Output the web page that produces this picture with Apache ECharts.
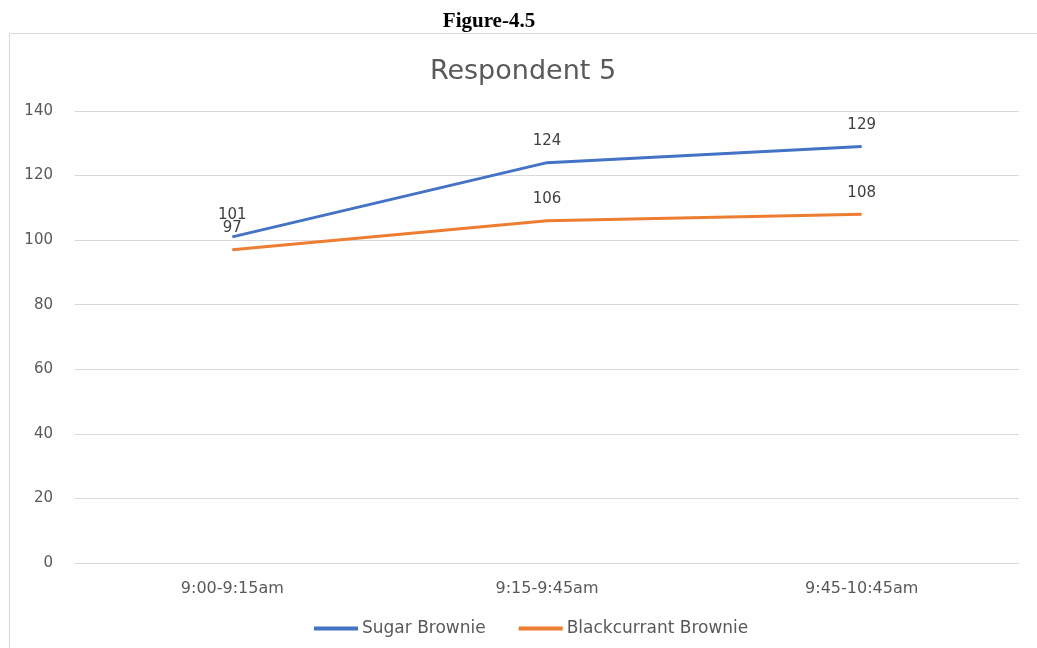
<!DOCTYPE html>
<html>
<head>
<meta charset="utf-8">
<script src="https://cdn.jsdelivr.net/npm/echarts@6/dist/echarts.min.js"></script>
<style>
  html, body { margin: 0; padding: 0; background: #fff; }
  #chart { width: 1037px; height: 648px; }
</style>
</head>
<body>
<div id="chart"></div>
<script>
// Time slots on the x axis
const timeSlots = ['9:00-9:15am', '9:15-9:45am', '9:45-10:45am'];
// Readings per time slot
const sugarBrownie = [101, 124, 129];
const blackcurrantBrownie = [97, 106, 108];
// Value axis ticks
const yTicks = [0, 20, 40, 60, 80, 100, 120, 140];

const chart = echarts.init(document.getElementById('chart'));
const textColor = '#595959';
const font = 'DejaVu Sans, sans-serif';

function lineSeries(name, data, color) {
  return {
    name: name,
    type: 'line',
    data: data,
    symbol: 'circle',
    symbolSize: 0,
    showSymbol: true,
    lineStyle: { color: color, width: 3 },
    itemStyle: { color: color },
    label: { show: true, position: 'top', distance: 14, fontFamily: font, fontSize: 15, color: '#404040' }
  };
}

chart.setOption({
  animation: false,
  backgroundColor: '#fff',
  graphic: [
    {
      type: 'rect',
      shape: { x: 9.5, y: 33.5, width: 1040, height: 640 },
      style: { fill: 'none', stroke: '#d9d9d9', lineWidth: 1 },
      silent: true
    }
  ],
  title: [
    {
      text: 'Figure-4.5',
      left: 484, top: 6, textAlign: 'center',
      textStyle: { fontFamily: 'Liberation Serif, serif', fontWeight: 'bold', fontSize: 21, color: '#000' }
    },
    {
      text: 'Respondent 5',
      left: 518, top: 53, textAlign: 'center',
      textStyle: { fontFamily: font, fontWeight: 'normal', fontSize: 27, color: textColor }
    }
  ],
  legend: {
    bottom: 6, left: 309,
    itemWidth: 44, itemHeight: 4, itemGap: 33,
    icon: 'rect',
    textStyle: { fontFamily: font, fontSize: 17, color: textColor, padding: [0, 0, 0, -1] },
    data: ['Sugar Brownie', 'Blackcurrant Brownie']
  },
  grid: { left: 75, right: 18, top: 111, bottom: 85, containLabel: false },
  xAxis: {
    type: 'category',
    data: timeSlots,
    boundaryGap: true,
    axisLine: { lineStyle: { color: '#d9d9d9', width: 1 } },
    axisTick: { show: false },
    axisLabel: { fontFamily: font, fontSize: 16, color: textColor, margin: 18 }
  },
  yAxis: {
    type: 'value',
    min: yTicks[0], max: yTicks[yTicks.length - 1], interval: 20,
    axisLine: { show: false },
    axisTick: { show: false },
    splitLine: { lineStyle: { color: '#d9d9d9', width: 1 } },
    axisLabel: { fontFamily: font, fontSize: 15, color: textColor, margin: 22 }
  },
  series: [
    lineSeries('Sugar Brownie', sugarBrownie, '#4472C4'),
    lineSeries('Blackcurrant Brownie', blackcurrantBrownie, '#ED7D31')
  ]
});
</script>
</body>
</html>
